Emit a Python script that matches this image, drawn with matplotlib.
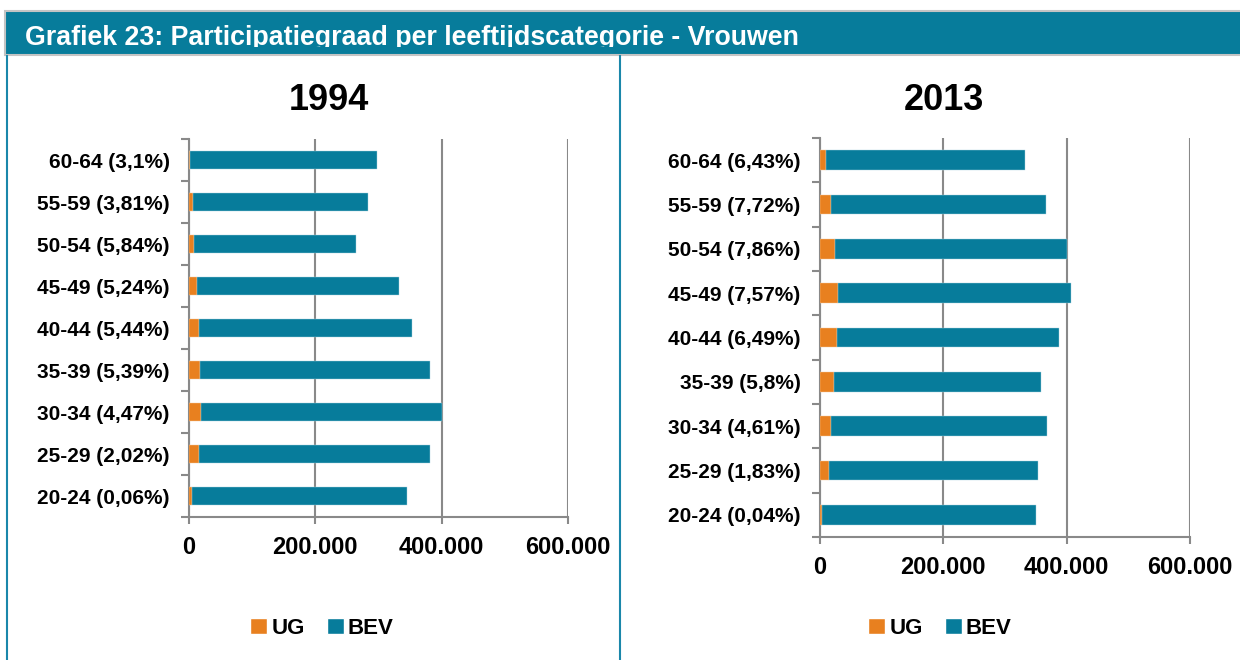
import matplotlib
matplotlib.use('Agg')
import matplotlib.pyplot as plt
from matplotlib.patches import Rectangle, Patch
from matplotlib.lines import Line2D
from matplotlib.ticker import FuncFormatter, FixedLocator
from matplotlib.transforms import Bbox, TransformedBbox

plt.rcParams['font.family'] = ['Liberation Sans', 'DejaVu Sans']
plt.rcParams['font.weight'] = 'bold'

# data, bottom row first (20-24 ... 60-64)
labels_1994 = ['20-24 (0,06%)', '25-29 (2,02%)', '30-34 (4,47%)', '35-39 (5,39%)',
               '40-44 (5,44%)', '45-49 (5,24%)', '50-54 (5,84%)', '55-59 (3,81%)',
               '60-64 (3,1%)']
ug_1994 = [4800, 16000, 19000, 17500, 15500, 12500, 8500, 7000, 1000]
bev_1994 = [341000, 365000, 381000, 363500, 337500, 319500, 255500, 276000, 296000]

labels_2013 = ['20-24 (0,04%)', '25-29 (1,83%)', '30-34 (4,61%)', '35-39 (5,8%)',
               '40-44 (6,49%)', '45-49 (7,57%)', '50-54 (7,86%)', '55-59 (7,72%)',
               '60-64 (6,43%)']
ug_2013 = [3800, 14000, 18500, 22500, 28000, 28500, 25000, 18500, 9800]
bev_2013 = [346700, 340000, 350000, 336500, 360000, 378000, 375000, 348500, 322200]

x_ticks = [0, 200000, 400000, 600000]

ORANGE = '#e8801f'
TEAL = '#077c9b'
GREY = '#898989'
W, H = 1240, 660


def fx(px):
    return px / W


def fy(py):
    return 1 - py / H


fig = plt.figure(figsize=(12.4, 6.6), dpi=100)

# header bar
hdr = Rectangle((fx(5), fy(55)), fx(1240), 44 / H, transform=fig.transFigure,
                facecolor=TEAL, edgecolor='#c4c4c4', lw=1.5)
fig.patches.append(hdr)
t = fig.text(fx(25), fy(45), 'Grafiek 23: Participatiegraad per leeftijdscategorie - Vrouwen',
             color='white', fontsize=19.3, fontweight='bold', va='baseline', ha='left')
clip = TransformedBbox(Bbox([[0, fy(47)], [1, fy(10)]]), fig.transFigure)
t.set_clip_box(clip)
t.set_clip_on(True)

# panel borders
for xp in (7, 620):
    fig.lines.append(Line2D([fx(xp), fx(xp)], [fy(56), 0], transform=fig.transFigure,
                            color='#1a87aa', lw=1.5))


def panel(rect, labels, ug, bev, title, title_xy, legend_xy):
    ax = fig.add_axes(rect)
    y = list(range(len(labels)))
    ax.barh(y, ug, height=0.44, color=ORANGE, edgecolor='#f3c9a0', linewidth=0.3, zorder=3)
    ax.barh(y, bev, left=ug, height=0.44, color=TEAL, edgecolor='#a9d3e0', linewidth=0.3, zorder=3)
    ax.set_xlim(0, 600000)
    ax.set_ylim(-0.5, len(labels) - 0.5)
    ax.set_xticks(x_ticks)
    ax.xaxis.set_major_formatter(FuncFormatter(lambda v, p: f'{int(v):,}'.replace(',', '.')))
    ax.set_yticks(y)
    ax.set_yticklabels(labels)
    ax.yaxis.set_minor_locator(FixedLocator([i - 0.5 for i in range(len(labels) + 1)]))
    ax.tick_params(axis='y', which='major', length=0, pad=14, labelsize=15)
    ax.tick_params(axis='y', which='minor', length=6, width=1.5, color=GREY)
    ax.tick_params(axis='x', length=5, width=1.5, color=GREY, pad=9, labelsize=17)
    for lb in ax.get_xticklabels() + ax.get_yticklabels():
        lb.set_fontweight('bold')
    ax.grid(axis='x', color=GREY, lw=1.5, zorder=0)
    ax.set_axisbelow(True)
    for s in ('top', 'right'):
        ax.spines[s].set_visible(False)
    for s in ('left', 'bottom'):
        ax.spines[s].set_color(GREY)
        ax.spines[s].set_linewidth(1.5)
    fig.text(fx(title_xy[0]), fy(title_xy[1]), title, fontsize=26, fontweight='bold',
             ha='center', va='center')
    handles = [Patch(facecolor=ORANGE, edgecolor='white', label='UG'),
               Patch(facecolor=TEAL, edgecolor='white', label='BEV')]
    fig.legend(handles=handles, loc='center', ncol=2, frameon=False,
               bbox_to_anchor=(fx(legend_xy[0]), fy(legend_xy[1])),
               prop={'size': 16, 'weight': 'bold'}, handlelength=0.75, handleheight=0.75,
               handletextpad=0.2, columnspacing=1.0)
    return ax


panel([fx(189), fy(517), 379 / W, 378 / H], labels_1994, ug_1994, bev_1994,
      '1994', (329, 101), (322, 628))
panel([fx(820), fy(537), 370 / W, 399 / H], labels_2013, ug_2013, bev_2013,
      '2013', (944, 101), (940, 628))

fig.savefig('out.png', dpi=100)
